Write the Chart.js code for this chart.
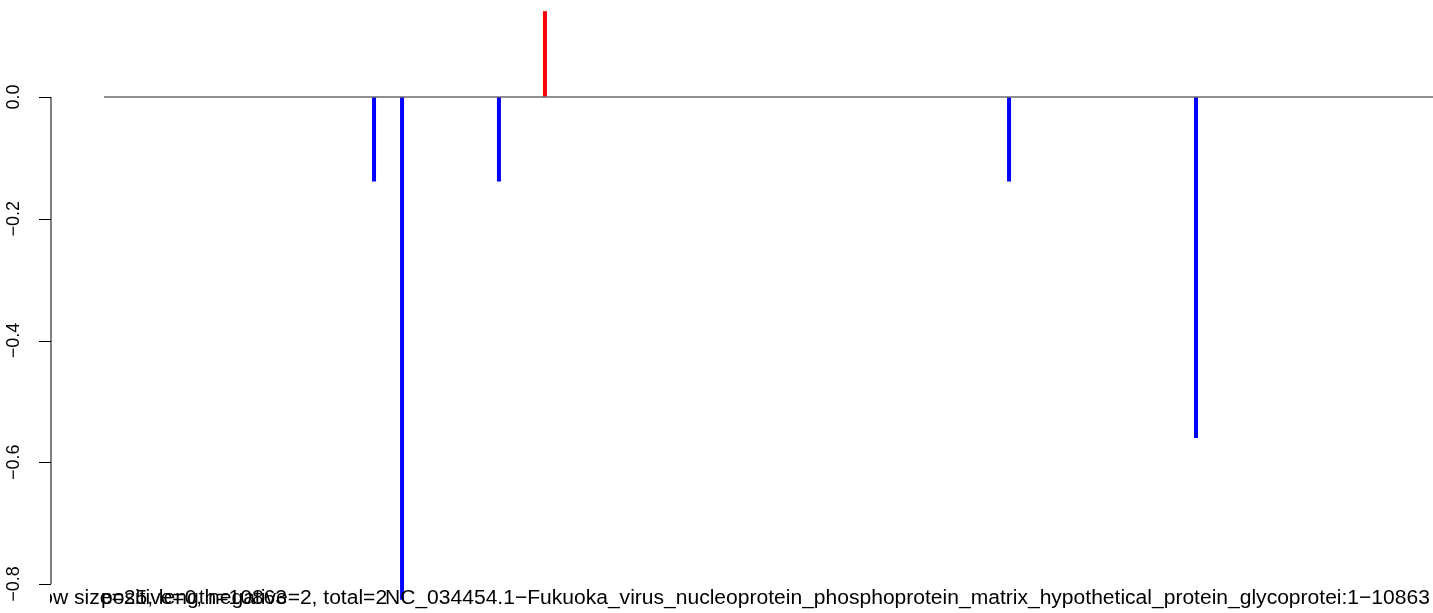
<!DOCTYPE html>
<html>
<head>
<meta charset="utf-8">
<script src="https://cdn.jsdelivr.net/npm/chart.js@4/dist/chart.umd.min.js"></script>
<style>
  body { margin: 0; background: #fff; }
  canvas { display: block; }
</style>
</head>
<body>
<canvas id="plot" width="1433" height="613"></canvas>
<script>
'use strict';
// positions along the sequence (1..10863) and window scores
const positions = [2208, 2437, 3229, 3605, 7398, 8926];
const scores = [-0.139, -0.826, -0.139, 0.141, -0.139, -0.56];
const seqRange = [1, 10863];
const yTicks = [0, -0.2, -0.4, -0.6, -0.8];
const bottomTexts = [
  'window size=25, length=10863',
  'positive=0, negative=2, total=2',
  'NC_034454.1\u2212Fukuoka_virus_nucleoprotein_phosphoprotein_matrix_hypothetical_protein_glycoprotei:1\u221210863'
];

const FONT = 'Liberation Sans, Arial, Helvetica, sans-serif';

const datasets = [{
  data: [{x: seqRange[0], y: 0}, {x: seqRange[1], y: 0}],
  showLine: true,
  borderColor: '#6b6b6b',
  borderWidth: 1.5,
  pointRadius: 0
}];
positions.forEach((p, i) => {
  datasets.push({
    data: [{x: p, y: 0}, {x: p, y: scores[i]}],
    showLine: true,
    borderColor: scores[i] > 0 ? '#ff0000' : '#0000ff',
    borderWidth: 4,
    borderCapStyle: 'butt',
    pointRadius: 0
  });
});

//R style axis + texts
const rAxis = {
  id: 'rAxis',
  afterDraw(chart) {
    const ctx = chart.ctx;
    const y = chart.scales.y;
    const axX = 51;
    ctx.save();
    ctx.strokeStyle = '#000';
    ctx.lineWidth = 1;
    ctx.beginPath();
    ctx.moveTo(axX, y.getPixelForValue(yTicks[0]));
    ctx.lineTo(axX, y.getPixelForValue(yTicks[yTicks.length - 1]));
    yTicks.forEach(t => {
      const py = Math.round(y.getPixelForValue(t)) + 0.5;
      ctx.moveTo(axX, py);
      ctx.lineTo(axX - 12, py);
    });
    ctx.stroke();

    ctx.fillStyle = '#000';
    ctx.font = '18px ' + FONT;
    ctx.textAlign = 'center';
    ctx.textBaseline = 'middle';
    yTicks.forEach(t => {
      const py = y.getPixelForValue(t);
      ctx.save();
      ctx.translate(14, py);
      ctx.rotate(-Math.PI / 2);
      ctx.fillText(t.toFixed(1).replace('-', '\u2212'), 0, 0);
      ctx.restore();
    });

    // bottom labels, overlapping like the original
    ctx.textAlign = 'left';
    ctx.textBaseline = 'alphabetic';
    const base = 604;
    ctx.font = '18px ' + FONT;
    const w3 = ctx.measureText(bottomTexts[2]).width;
    const size = 18 * 1045 / w3;
    ctx.font = size.toFixed(2) + 'px ' + FONT;

    ctx.save();
    ctx.beginPath();
    ctx.rect(50, 560, 1433, 53);
    ctx.clip();
    const w1 = ctx.measureText(bottomTexts[0]).width;
    ctx.fillText(bottomTexts[0], 287 - w1, base);
    ctx.restore();
    ctx.fillText(bottomTexts[1], 101, base);
    ctx.fillText(bottomTexts[2], 385, base);
    ctx.restore();
  }
};

const pxPerUnit = 1329 / (seqRange[1] - seqRange[0]);
new Chart(document.getElementById('plot'), {
  type: 'scatter',
  data: { datasets: datasets },
  options: {
    responsive: false,
    animation: false,
    layout: { padding: 0 },
    plugins: {
      legend: { display: false },
      tooltip: { enabled: false }
    },
    scales: {
      x: { type: 'linear', display: false,
           min: seqRange[0] - 104 / pxPerUnit, max: seqRange[1] },
      y: { display: false, min: -(613 - 97) / 608.75, max: 97 / 608.75 }
    }
  },
  plugins: [rAxis]
});
</script>
</body>
</html>
